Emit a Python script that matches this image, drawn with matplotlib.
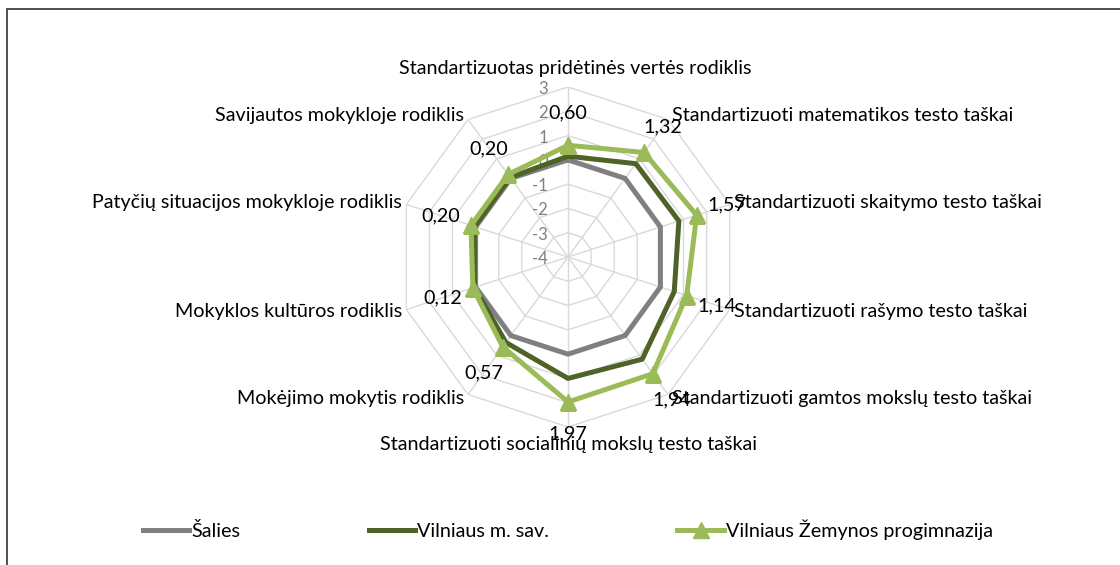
import numpy as np
import matplotlib
matplotlib.use("Agg")
from matplotlib import pyplot as plt
from matplotlib.patches import Rectangle
from matplotlib.lines import Line2D

plt.rcParams["font.family"] = ["Lato", "DejaVu Sans"]

categories = ["Standartizuotas pridėtinės vertės rodiklis",
              "Standartizuoti matematikos testo taškai",
              "Standartizuoti skaitymo testo taškai",
              "Standartizuoti rašymo testo taškai",
              "Standartizuoti gamtos mokslų testo taškai",
              "Standartizuoti socialinių mokslų testo taškai",
              "Mokėjimo mokytis rodiklis",
              "Mokyklos kultūros rodiklis",
              "Patyčių situacijos mokykloje rodiklis",
              "Savijautos mokykloje rodiklis"]
series_names = ["Šalies", "Vilniaus m. sav.", "Vilniaus Žemynos progimnazija"]
salies = [0, 0, 0, 0, 0, 0, 0, 0, 0, 0]
vilnius = [0.15, 0.75, 0.8, 0.6, 1.2, 1.0, 0.35, 0.05, 0.05, 0.05]
zemynos = [0.60, 1.32, 1.57, 1.14, 1.94, 1.97, 0.57, 0.12, 0.20, 0.20]
ticks = [-4, -3, -2, -1, 0, 1, 2, 3]

c_grid = "#d9d9d9"
c_gray = "#808080"
c_dark = "#4f6228"
c_light = "#9bbb59"
fs = 14.2
px = 0.72  # points per pixel at dpi 100

W, H = 1120, 565
fig = plt.figure(figsize=(W / 100, H / 100), dpi=100)

cx, cy, R = 568, 257, 170
ax = fig.add_axes([(cx - R) / W, 1 - (cy + R) / H, 2 * R / W, 2 * R / H], projection="polar")
ax.set_theta_zero_location("N")
ax.set_theta_direction(-1)
ax.set_ylim(ticks[0], ticks[-1])
ax.set_xticks([])
ax.set_yticks([])
ax.grid(False)
ax.spines["polar"].set_visible(False)
ax.patch.set_visible(False)

n = len(categories)
ang = np.arange(n) * 2 * np.pi / n
ang_c = np.append(ang, ang[0])

# grid: decagon rings + spokes
for t in ticks[1:]:
    ax.plot(ang_c, [t] * (n + 1), color=c_grid, lw=1, zorder=1)
for a in ang:
    ax.plot([a, a], [ticks[0], ticks[-1]], color=c_grid, lw=1, zorder=1)

# value axis labels
for t in ticks:
    ax.annotate(str(t), xy=(0, t), xytext=(-20 * px, -2 * px), textcoords="offset points",
                ha="right", va="center", color=c_gray, fontsize=12, zorder=2)

def closed(v):
    return list(v) + [v[0]]

ax.plot(ang_c, closed(salies), color=c_gray, lw=3.6, zorder=3)
ax.plot(ang_c, closed(vilnius), color=c_dark, lw=3.6, zorder=4)
ax.plot(ang_c, closed(zemynos), color=c_light, lw=3.6, marker="^", ms=11, zorder=5)

# data labels
for a, v in zip(ang, zemynos):
    dx, dy = np.sin(a) * 32 * px, np.cos(a) * 32 * px
    ax.annotate(("%.2f" % v).replace(".", ","), xy=(a, v), xytext=(dx, dy),
                textcoords="offset points", ha="center", va="center",
                fontsize=fs, color="black", zorder=6)

# category labels
for a, lab in zip(ang, categories):
    s, c = np.sin(a), np.cos(a)
    if abs(s) < 1e-6:
        if c > 0:
            ax.annotate(lab, xy=(a, ticks[-1]), xytext=(7 * px, 10 * px), textcoords="offset points",
                        ha="center", va="bottom", fontsize=fs)
        else:
            ax.annotate(lab, xy=(a, ticks[-1]), xytext=(0, -9 * px), textcoords="offset points",
                        ha="center", va="top", fontsize=fs)
    else:
        ax.annotate(lab, xy=(a, ticks[-1]), xytext=(np.sign(s) * 4 * px, 5 * c * px),
                    textcoords="offset points", ha="left" if s > 0 else "right",
                    va="center", fontsize=fs)

# legend
handles = [Line2D([], [], color=c_gray, lw=3.6),
           Line2D([], [], color=c_dark, lw=3.6),
           Line2D([], [], color=c_light, lw=3.6, marker="^", ms=11)]
fig.legend(handles, series_names, loc="center", bbox_to_anchor=(cx / W, 1 - 530 / H),
           ncol=3, frameon=False, fontsize=fs, handlelength=2.35, handletextpad=0.12,
           columnspacing=6.5)

# chart area border
fig.patches.append(Rectangle((7 / W, -0.1), 1.2, 1.1 - 9 / H, transform=fig.transFigure,
                             fill=False, edgecolor="#404040", lw=1.3))

fig.savefig("out.png", dpi=100)
